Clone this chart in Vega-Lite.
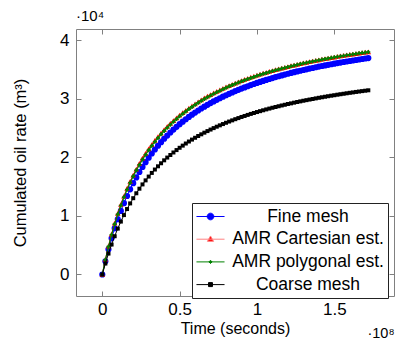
{
"$schema": "https://vega.github.io/schema/vega-lite/v6.json",
"width": 318, "height": 267,
"autosize": {"type": "none"},
"padding": {"left": 76, "top": 29, "right": 4, "bottom": 48},
"background": "white",
"title": {"text": "·10⁴", "anchor": "start", "frame": "group", "fontSize": 15, "fontWeight": "normal", "font": "Liberation Sans", "color": "black", "offset": 5},
"datasets": {
"fine": [
{"time":0,"oil":0},{"time":0.02,"oil":0.226},{"time":0.04,"oil":0.431},{"time":0.06,"oil":0.617},{"time":0.08,"oil":0.787},{"time":0.1,"oil":0.942},{"time":0.12,"oil":1.085},{"time":0.14,"oil":1.217},{"time":0.16,"oil":1.34},{"time":0.18,"oil":1.453},{"time":0.2,"oil":1.559},{"time":0.22,"oil":1.657},{"time":0.24,"oil":1.749},{"time":0.26,"oil":1.836},{"time":0.28,"oil":1.917},{"time":0.3,"oil":1.993},{"time":0.32,"oil":2.065},{"time":0.34,"oil":2.133},{"time":0.36,"oil":2.197},{"time":0.38,"oil":2.258},{"time":0.4,"oil":2.316},{"time":0.42,"oil":2.371},{"time":0.44,"oil":2.423},{"time":0.46,"oil":2.472},{"time":0.48,"oil":2.52},{"time":0.5,"oil":2.565},{"time":0.52,"oil":2.608},{"time":0.54,"oil":2.649},{"time":0.56,"oil":2.689},{"time":0.58,"oil":2.727},{"time":0.6,"oil":2.763},{"time":0.62,"oil":2.798},{"time":0.64,"oil":2.832},{"time":0.66,"oil":2.864},{"time":0.68,"oil":2.895},{"time":0.7,"oil":2.925},{"time":0.72,"oil":2.954},{"time":0.74,"oil":2.981},{"time":0.76,"oil":3.008},{"time":0.78,"oil":3.034},{"time":0.8,"oil":3.059},{"time":0.82,"oil":3.083},{"time":0.84,"oil":3.106},{"time":0.86,"oil":3.129},{"time":0.88,"oil":3.151},{"time":0.9,"oil":3.172},{"time":0.92,"oil":3.192},{"time":0.94,"oil":3.212},{"time":0.96,"oil":3.232},{"time":0.98,"oil":3.25},{"time":1.0,"oil":3.269},{"time":1.02,"oil":3.286},{"time":1.04,"oil":3.303},{"time":1.06,"oil":3.32},{"time":1.08,"oil":3.336},{"time":1.1,"oil":3.352},{"time":1.12,"oil":3.368},{"time":1.14,"oil":3.383},{"time":1.16,"oil":3.397},{"time":1.18,"oil":3.411},{"time":1.2,"oil":3.425},{"time":1.22,"oil":3.439},{"time":1.24,"oil":3.452},{"time":1.26,"oil":3.465},{"time":1.28,"oil":3.477},{"time":1.3,"oil":3.489},{"time":1.32,"oil":3.501},{"time":1.34,"oil":3.513},{"time":1.36,"oil":3.524},{"time":1.38,"oil":3.536},{"time":1.4,"oil":3.547},{"time":1.42,"oil":3.557},{"time":1.44,"oil":3.568},{"time":1.46,"oil":3.578},{"time":1.48,"oil":3.588},{"time":1.5,"oil":3.597},{"time":1.52,"oil":3.607},{"time":1.54,"oil":3.616},{"time":1.56,"oil":3.626},{"time":1.58,"oil":3.635},{"time":1.6,"oil":3.643},{"time":1.62,"oil":3.652},{"time":1.64,"oil":3.66},{"time":1.66,"oil":3.669},{"time":1.68,"oil":3.677},{"time":1.7,"oil":3.685},{"time":1.72,"oil":3.693}
],
"cartesian": [
{"time":0,"oil":0},{"time":0.02,"oil":0.256},{"time":0.04,"oil":0.484},{"time":0.06,"oil":0.69},{"time":0.08,"oil":0.875},{"time":0.1,"oil":1.044},{"time":0.12,"oil":1.197},{"time":0.14,"oil":1.338},{"time":0.16,"oil":1.468},{"time":0.18,"oil":1.587},{"time":0.2,"oil":1.697},{"time":0.22,"oil":1.8},{"time":0.24,"oil":1.895},{"time":0.26,"oil":1.984},{"time":0.28,"oil":2.067},{"time":0.3,"oil":2.145},{"time":0.32,"oil":2.218},{"time":0.34,"oil":2.287},{"time":0.36,"oil":2.352},{"time":0.38,"oil":2.413},{"time":0.4,"oil":2.471},{"time":0.42,"oil":2.526},{"time":0.44,"oil":2.578},{"time":0.46,"oil":2.627},{"time":0.48,"oil":2.674},{"time":0.5,"oil":2.719},{"time":0.52,"oil":2.761},{"time":0.54,"oil":2.802},{"time":0.56,"oil":2.841},{"time":0.58,"oil":2.878},{"time":0.6,"oil":2.913},{"time":0.62,"oil":2.947},{"time":0.64,"oil":2.98},{"time":0.66,"oil":3.012},{"time":0.68,"oil":3.042},{"time":0.7,"oil":3.071},{"time":0.72,"oil":3.098},{"time":0.74,"oil":3.125},{"time":0.76,"oil":3.151},{"time":0.78,"oil":3.176},{"time":0.8,"oil":3.2},{"time":0.82,"oil":3.223},{"time":0.84,"oil":3.246},{"time":0.86,"oil":3.267},{"time":0.88,"oil":3.288},{"time":0.9,"oil":3.309},{"time":0.92,"oil":3.328},{"time":0.94,"oil":3.347},{"time":0.96,"oil":3.366},{"time":0.98,"oil":3.383},{"time":1.0,"oil":3.401},{"time":1.02,"oil":3.418},{"time":1.04,"oil":3.434},{"time":1.06,"oil":3.45},{"time":1.08,"oil":3.465},{"time":1.1,"oil":3.48},{"time":1.12,"oil":3.495},{"time":1.14,"oil":3.509},{"time":1.16,"oil":3.523},{"time":1.18,"oil":3.536},{"time":1.2,"oil":3.549},{"time":1.22,"oil":3.562},{"time":1.24,"oil":3.574},{"time":1.26,"oil":3.587},{"time":1.28,"oil":3.598},{"time":1.3,"oil":3.61},{"time":1.32,"oil":3.621},{"time":1.34,"oil":3.632},{"time":1.36,"oil":3.643},{"time":1.38,"oil":3.653},{"time":1.4,"oil":3.663},{"time":1.42,"oil":3.673},{"time":1.44,"oil":3.683},{"time":1.46,"oil":3.693},{"time":1.48,"oil":3.702},{"time":1.5,"oil":3.711},{"time":1.52,"oil":3.72},{"time":1.54,"oil":3.729},{"time":1.56,"oil":3.737},{"time":1.58,"oil":3.746},{"time":1.6,"oil":3.754},{"time":1.62,"oil":3.762},{"time":1.64,"oil":3.77},{"time":1.66,"oil":3.778},{"time":1.68,"oil":3.785},{"time":1.7,"oil":3.793},{"time":1.72,"oil":3.8}
],
"polygonal": [
{"time":0,"oil":0},{"time":0.02,"oil":0.25},{"time":0.04,"oil":0.475},{"time":0.06,"oil":0.677},{"time":0.08,"oil":0.86},{"time":0.1,"oil":1.026},{"time":0.12,"oil":1.178},{"time":0.14,"oil":1.318},{"time":0.16,"oil":1.446},{"time":0.18,"oil":1.565},{"time":0.2,"oil":1.675},{"time":0.22,"oil":1.777},{"time":0.24,"oil":1.872},{"time":0.26,"oil":1.961},{"time":0.28,"oil":2.044},{"time":0.3,"oil":2.122},{"time":0.32,"oil":2.196},{"time":0.34,"oil":2.265},{"time":0.36,"oil":2.33},{"time":0.38,"oil":2.391},{"time":0.4,"oil":2.45},{"time":0.42,"oil":2.505},{"time":0.44,"oil":2.557},{"time":0.46,"oil":2.607},{"time":0.48,"oil":2.654},{"time":0.5,"oil":2.699},{"time":0.52,"oil":2.742},{"time":0.54,"oil":2.783},{"time":0.56,"oil":2.822},{"time":0.58,"oil":2.86},{"time":0.6,"oil":2.896},{"time":0.62,"oil":2.93},{"time":0.64,"oil":2.963},{"time":0.66,"oil":2.995},{"time":0.68,"oil":3.026},{"time":0.7,"oil":3.055},{"time":0.72,"oil":3.083},{"time":0.74,"oil":3.11},{"time":0.76,"oil":3.136},{"time":0.78,"oil":3.162},{"time":0.8,"oil":3.186},{"time":0.82,"oil":3.21},{"time":0.84,"oil":3.232},{"time":0.86,"oil":3.254},{"time":0.88,"oil":3.276},{"time":0.9,"oil":3.296},{"time":0.92,"oil":3.316},{"time":0.94,"oil":3.335},{"time":0.96,"oil":3.354},{"time":0.98,"oil":3.372},{"time":1.0,"oil":3.39},{"time":1.02,"oil":3.407},{"time":1.04,"oil":3.424},{"time":1.06,"oil":3.44},{"time":1.08,"oil":3.455},{"time":1.1,"oil":3.471},{"time":1.12,"oil":3.486},{"time":1.14,"oil":3.5},{"time":1.16,"oil":3.514},{"time":1.18,"oil":3.528},{"time":1.2,"oil":3.541},{"time":1.22,"oil":3.554},{"time":1.24,"oil":3.567},{"time":1.26,"oil":3.579},{"time":1.28,"oil":3.591},{"time":1.3,"oil":3.603},{"time":1.32,"oil":3.614},{"time":1.34,"oil":3.625},{"time":1.36,"oil":3.636},{"time":1.38,"oil":3.647},{"time":1.4,"oil":3.657},{"time":1.42,"oil":3.668},{"time":1.44,"oil":3.678},{"time":1.46,"oil":3.687},{"time":1.48,"oil":3.697},{"time":1.5,"oil":3.706},{"time":1.52,"oil":3.715},{"time":1.54,"oil":3.724},{"time":1.56,"oil":3.733},{"time":1.58,"oil":3.741},{"time":1.6,"oil":3.75},{"time":1.62,"oil":3.758},{"time":1.64,"oil":3.766},{"time":1.66,"oil":3.774},{"time":1.68,"oil":3.782},{"time":1.7,"oil":3.789},{"time":1.72,"oil":3.797}
],
"coarse": [
{"time":0,"oil":0},{"time":0.02,"oil":0.187},{"time":0.04,"oil":0.357},{"time":0.06,"oil":0.511},{"time":0.08,"oil":0.653},{"time":0.1,"oil":0.783},{"time":0.12,"oil":0.903},{"time":0.14,"oil":1.014},{"time":0.16,"oil":1.117},{"time":0.18,"oil":1.213},{"time":0.2,"oil":1.302},{"time":0.22,"oil":1.386},{"time":0.24,"oil":1.464},{"time":0.26,"oil":1.537},{"time":0.28,"oil":1.606},{"time":0.3,"oil":1.671},{"time":0.32,"oil":1.733},{"time":0.34,"oil":1.791},{"time":0.36,"oil":1.846},{"time":0.38,"oil":1.898},{"time":0.4,"oil":1.948},{"time":0.42,"oil":1.995},{"time":0.44,"oil":2.039},{"time":0.46,"oil":2.082},{"time":0.48,"oil":2.123},{"time":0.5,"oil":2.162},{"time":0.52,"oil":2.199},{"time":0.54,"oil":2.235},{"time":0.56,"oil":2.269},{"time":0.58,"oil":2.302},{"time":0.6,"oil":2.333},{"time":0.62,"oil":2.363},{"time":0.64,"oil":2.392},{"time":0.66,"oil":2.42},{"time":0.68,"oil":2.447},{"time":0.7,"oil":2.473},{"time":0.72,"oil":2.498},{"time":0.74,"oil":2.522},{"time":0.76,"oil":2.545},{"time":0.78,"oil":2.567},{"time":0.8,"oil":2.589},{"time":0.82,"oil":2.61},{"time":0.84,"oil":2.63},{"time":0.86,"oil":2.65},{"time":0.88,"oil":2.669},{"time":0.9,"oil":2.688},{"time":0.92,"oil":2.705},{"time":0.94,"oil":2.723},{"time":0.96,"oil":2.74},{"time":0.98,"oil":2.756},{"time":1.0,"oil":2.772},{"time":1.02,"oil":2.787},{"time":1.04,"oil":2.802},{"time":1.06,"oil":2.817},{"time":1.08,"oil":2.831},{"time":1.1,"oil":2.845},{"time":1.12,"oil":2.858},{"time":1.14,"oil":2.871},{"time":1.16,"oil":2.884},{"time":1.18,"oil":2.896},{"time":1.2,"oil":2.909},{"time":1.22,"oil":2.92},{"time":1.24,"oil":2.932},{"time":1.26,"oil":2.943},{"time":1.28,"oil":2.954},{"time":1.3,"oil":2.965},{"time":1.32,"oil":2.975},{"time":1.34,"oil":2.985},{"time":1.36,"oil":2.995},{"time":1.38,"oil":3.005},{"time":1.4,"oil":3.015},{"time":1.42,"oil":3.024},{"time":1.44,"oil":3.033},{"time":1.46,"oil":3.042},{"time":1.48,"oil":3.051},{"time":1.5,"oil":3.059},{"time":1.52,"oil":3.068},{"time":1.54,"oil":3.076},{"time":1.56,"oil":3.084},{"time":1.58,"oil":3.092},{"time":1.6,"oil":3.1},{"time":1.62,"oil":3.107},{"time":1.64,"oil":3.115},{"time":1.66,"oil":3.122},{"time":1.68,"oil":3.129},{"time":1.7,"oil":3.136},{"time":1.72,"oil":3.143}
]
},
"encoding": {
"x": {"field": "time", "type": "quantitative", "scale": {"domain": [-0.17, 1.886], "nice": false, "zero": false}, "axis": null},
"y": {"field": "oil", "type": "quantitative", "scale": {"domain": [-0.367, 4.189], "nice": false, "zero": false}, "axis": null}
},
"layer": [
{"data": {"name": "fine"},
 "mark": {"type": "line", "color": "#0000ff", "strokeWidth": 1, "point": {"shape": "circle", "size": 38, "filled": true, "color": "#0000ff", "opacity": 1}},
 "encoding": {
  "x": {"field": "time", "type": "quantitative", "scale": {"domain": [-0.17, 1.886], "nice": false, "zero": false},
        "axis": {"orient": "bottom", "values": [0, 0.5, 1, 1.5], "format": "~g", "offset": -5, "tickSize": 5, "labelPadding": 5, "title": "Time (seconds)", "titlePadding": 3}},
  "y": {"field": "oil", "type": "quantitative", "scale": {"domain": [-0.367, 4.189], "nice": false, "zero": false},
        "axis": {"orient": "left", "values": [0, 1, 2, 3, 4], "format": "~g", "offset": -5, "tickSize": 5, "labelPadding": 7, "title": "Cumulated oil rate (m³)", "titleFontSize": 16.5, "titlePadding": 31}}
 }},
{"data": {"name": "cartesian"},
 "mark": {"type": "line", "color": "#ff0000", "strokeWidth": 1, "point": {"shape": "triangle-up", "size": 30, "filled": true, "color": "#ff0000", "opacity": 1}},
 "encoding": {
  "x": {"field": "time", "type": "quantitative", "scale": {"domain": [-0.17, 1.886], "nice": false, "zero": false},
        "axis": {"orient": "top", "values": [0, 0.5, 1, 1.5], "labels": false, "title": null, "offset": -5, "tickSize": 5}},
  "y": {"field": "oil", "type": "quantitative", "scale": {"domain": [-0.367, 4.189], "nice": false, "zero": false},
        "axis": {"orient": "right", "values": [0, 1, 2, 3, 4], "labels": false, "title": null, "offset": -5, "tickSize": 5}}
 }},
{"data": {"name": "polygonal"},
 "mark": {"type": "line", "color": "#008000", "strokeWidth": 1.2, "point": {"shape": "cross", "size": 16, "filled": true, "color": "#008000", "opacity": 1}}},
{"data": {"name": "coarse"},
 "mark": {"type": "line", "color": "#000000", "strokeWidth": 1, "point": {"shape": "square", "size": 16, "filled": true, "color": "#000000", "opacity": 1}}},
{"data": {"values": []},
 "mark": {"type": "point", "filled": true, "opacity": 1},
 "encoding": {
  "x": {"field": "time", "type": "quantitative", "scale": {"domain": [-0.17, 1.886], "nice": false, "zero": false},
        "axis": {"orient": "bottom", "ticks": false, "labels": false, "domain": false, "title": "·10⁸", "titleAnchor": "end", "titleFontSize": 14.5, "titleBaseline": "alphabetic", "titlePadding": 41}},
  "shape": {"field": "series", "type": "nominal", "scale": {"domain": ["Fine mesh", "AMR Cartesian est.", "AMR polygonal est.", "Coarse mesh"],
     "range": ["M-1.56,0H1.56M-0.37,0A0.37,0.37 0 1,0 0.37,0A0.37,0.37 0 1,0 -0.37,0Z", "M-1.56,0H1.56M0,-0.36L0.34,0.24L-0.34,0.24Z", "M-1.56,0H1.56M0,-0.18L0.18,0L0,0.18L-0.18,0Z", "M-1.56,0H1.56M-0.22,-0.22H0.22V0.22H-0.22Z"]}},
  "fill": {"field": "series", "type": "nominal", "scale": {"domain": ["Fine mesh", "AMR Cartesian est.", "AMR polygonal est.", "Coarse mesh"], "range": ["#0000ff", "#ff0000", "#008000", "#000000"]}},
  "stroke": {"field": "series", "type": "nominal", "scale": {"domain": ["Fine mesh", "AMR Cartesian est.", "AMR polygonal est.", "Coarse mesh"], "range": ["#0000ff", "#ff8080", "#008000", "#000000"]}}
 }}
],
"resolve": {"axis": {"x": "independent", "y": "independent"}},
"config": {
 "font": "Liberation Sans",
 "view": {"stroke": "#808080", "strokeWidth": 1},
 "axis": {"domain": false, "grid": false, "tickColor": "#808080", "tickWidth": 1, "labelFont": "Liberation Sans", "labelFontSize": 17, "labelColor": "black", "titleFont": "Liberation Sans", "titleFontSize": 16, "titleFontWeight": "normal", "titleColor": "black"},
 "legend": {"orient": "none", "legendX": 116, "legendY": 174, "title": null, "strokeColor": "#222222", "fillColor": "white", "padding": 4, "symbolOffset": 5, "rowPadding": 4.7, "labelFont": "Liberation Sans", "labelFontSize": 17.5, "labelColor": "black", "labelAlign": "center", "labelOffset": 88, "symbolSize": 324, "symbolStrokeWidth": 1, "symbolOpacity": 1, "labelLimit": 300}
}
}
